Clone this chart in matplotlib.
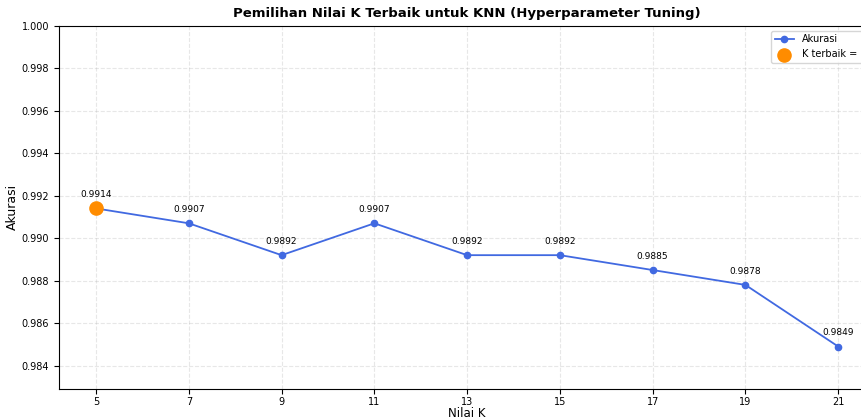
import matplotlib
matplotlib.use("Agg")
import matplotlib.pyplot as plt

# Data
k_values = [5, 7, 9, 11, 13, 15, 17, 19, 21]
akurasi = [0.9914, 0.9907, 0.9892, 0.9907, 0.9892, 0.9892, 0.9885, 0.9878, 0.9849]
best_k = 5
best_acc = 0.9914

fig = plt.figure(figsize=(8.62, 4.18), dpi=100)
# axes runs slightly past the right edge, like the cropped original
ax = fig.add_axes([0.0684, 0.0694, 0.947, 0.869])

ax.plot(k_values, akurasi, marker='o', color='royalblue', markersize=4.5,
        linewidth=1.3, label='Akurasi')
ax.scatter([best_k], [best_acc], color='darkorange', s=90, zorder=5,
           label=f'K terbaik = {best_k}')

for k, a in zip(k_values, akurasi):
    ax.annotate(f'{a:.4f}', (k, a), textcoords='offset points', xytext=(0, 8),
                ha='center', fontsize=6.5)

ax.set_title('Pemilihan Nilai K Terbaik untuk KNN (Hyperparameter Tuning)',
             fontsize=9.5, fontweight='bold')
ax.set_xlabel('Nilai K', fontsize=8.5, labelpad=0)
ax.set_ylabel('Akurasi', fontsize=9, labelpad=2)
ax.set_xticks(k_values)
ax.set_ylim(min(akurasi) - 0.002, 1.0)
ax.tick_params(labelsize=7)
ax.tick_params(axis='x', pad=2)
ax.grid(True, linestyle='--', alpha=0.3)
ax.legend(fontsize=7, loc='upper right')

fig.savefig('out.png', dpi=100)
